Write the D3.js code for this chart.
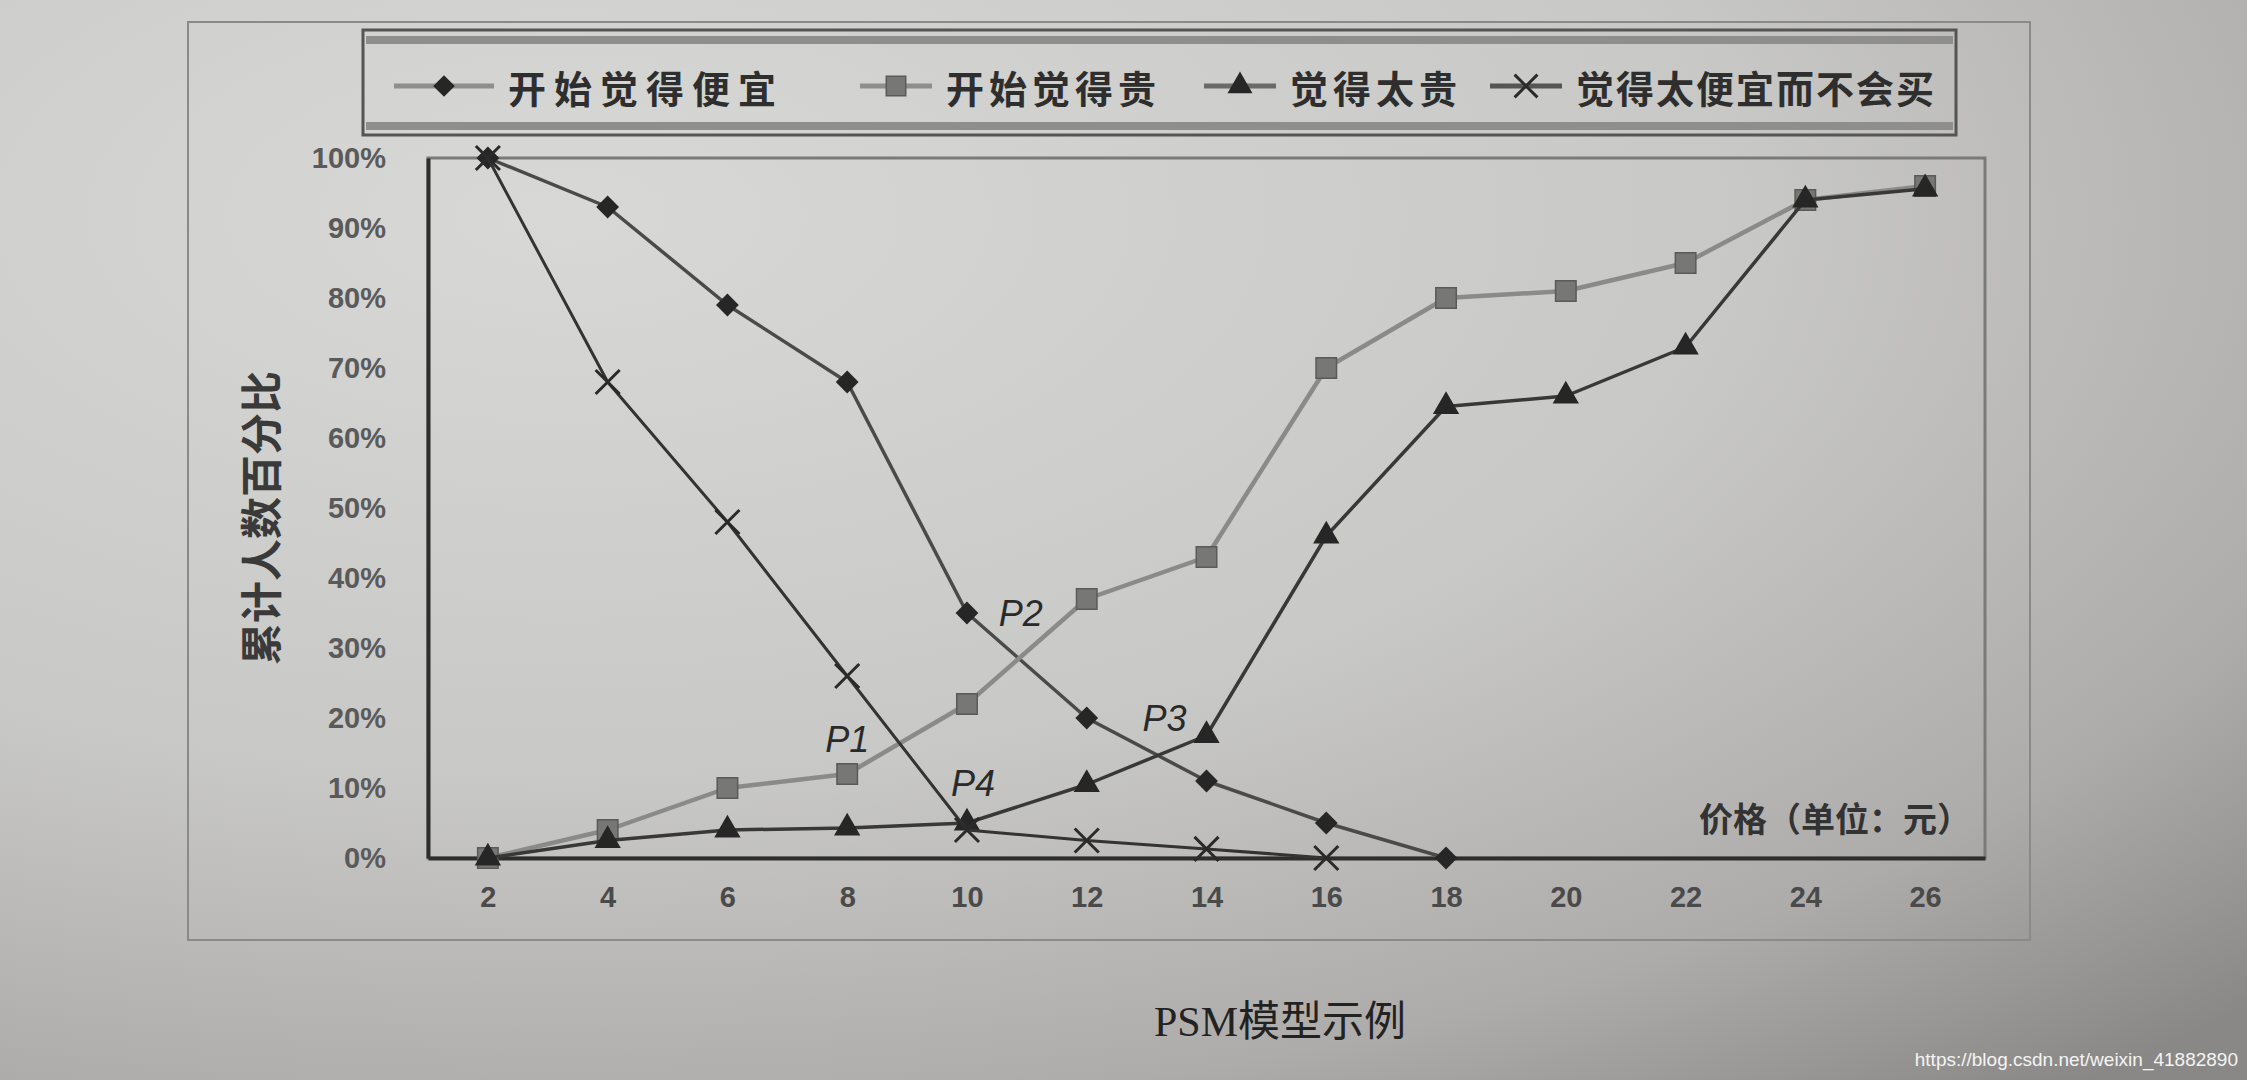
<!DOCTYPE html>
<html>
<head>
<meta charset="utf-8">
<script src="https://cdn.jsdelivr.net/npm/d3@7"></script>
<style>
  html, body { margin: 0; padding: 0; background: #c4c4c2; }
  svg { display: block; }
</style>
</head>
<body>
<div id="chart"></div>
<script>
// price categories (元)
var prices = [2, 4, 6, 8, 10, 12, 14, 16, 18, 20, 22, 24, 26];

// cumulative share of respondents, percent
var cheapStart     = [100, 93, 79, 68, 35, 20, 11, 5, 0];                      // 开始觉得便宜 (2..18)
var expensiveStart = [0, 4, 10, 12, 22, 37, 43, 70, 80, 81, 85, 94, 96];       // 开始觉得贵
var tooExpensive   = [0, 2.5, 4, 4.3, 5, 10.5, 17.5, 46, 64.5, 66, 73, 94, 95.6]; // 觉得太贵
var tooCheap       = [100, 68, 48, 26, 4, 2.5, 1.3, 0];                        // 觉得太便宜而不会买 (2..16)

var seriesNames = ['开始觉得便宜', '开始觉得贵', '觉得太贵', '觉得太便宜而不会买'];
var yTicks = [0, 10, 20, 30, 40, 50, 60, 70, 80, 90, 100];

// intersection labels, anchored in data units
var pLabels = ['P1', 'P2', 'P3', 'P4'];
var pPrice  = [8, 10.9, 13.3, 10.1];
var pValue  = [17, 35, 20, 10.6];

var W = 2247, H = 1080;
var plot = {left: 428, right: 1985, top: 158, bottom: 858};

var svg = d3.select('#chart').append('svg')
	.attr('width', W)
	.attr('height', H);

// paper-like background of the photo
var defs = svg.append('defs');
var grad = defs.append('radialGradient')
	.attr('id', 'paper')
	.attr('cx', '0.25').attr('cy', '0.2').attr('r', '1.05');
grad.append('stop').attr('offset', '0').attr('stop-color', '#d8d8d6');
grad.append('stop').attr('offset', '0.5').attr('stop-color', '#c8c8c6');
grad.append('stop').attr('offset', '0.8').attr('stop-color', '#aeacaa');
grad.append('stop').attr('offset', '1').attr('stop-color', '#8a8886');
svg.append('rect')
	.attr('width', W).attr('height', H)
	.attr('fill', 'url(#paper)');

// outer chart frame
svg.append('rect')
	.attr('x', 188).attr('y', 22)
	.attr('width', 2030 - 188).attr('height', 940 - 22)
	.attr('fill', 'none')
	.attr('stroke', '#8a8a88')
	.attr('stroke-width', 2);

var xScale = d3.scaleLinear()
	.domain([1, 27])
	.range([plot.left, plot.right]);

var yScale = d3.scaleLinear()
	.domain([0, 100])
	.range([plot.bottom, plot.top]);

// plot frame
svg.append('rect')
	.attr('x', plot.left).attr('y', plot.top)
	.attr('width', plot.right - plot.left)
	.attr('height', plot.bottom - plot.top)
	.attr('fill', 'none')
	.attr('stroke', '#7a7a78')
	.attr('stroke-width', 3);

var yAxis = d3.axisLeft(yScale)
	.tickValues(yTicks)
	.tickSize(0)
	.tickPadding(42)
	.tickFormat(function(d) { return d + '%'; });

var yGuide = svg.append('g')
	.attr('transform', 'translate(' + plot.left + ',0)')
	.call(yAxis);
yGuide.select('.domain')
	.attr('stroke', '#2e2e2e')
	.attr('stroke-width', 4);
yGuide.selectAll('text')
	.attr('fill', '#5a5a5a')
	.style('font-family', '"Liberation Sans", Arial, sans-serif')
	.style('font-weight', 'bold')
	.style('font-size', '29px');

var xAxis = d3.axisBottom(xScale)
	.tickValues(prices)
	.tickSize(0)
	.tickPadding(28)
	.tickFormat(d3.format('d'));

var xGuide = svg.append('g')
	.attr('transform', 'translate(0,' + plot.bottom + ')')
	.call(xAxis);
xGuide.select('.domain')
	.attr('stroke', '#2e2e2e')
	.attr('stroke-width', 4);
xGuide.selectAll('text')
	.attr('fill', '#4a4a4a')
	.style('font-family', '"Liberation Sans", Arial, sans-serif')
	.style('font-weight', 'bold')
	.style('font-size', '29px');

// series setup
var series = [
	{name: seriesNames[0], values: cheapStart, line: '#4a4a4a', width: 3.5,
	 symbol: d3.symbolSquare, rotate: 45, size: 260, fill: '#262626', stroke: 'none'},
	{name: seriesNames[1], values: expensiveStart, line: '#8a8a88', width: 4.5,
	 symbol: d3.symbolSquare, rotate: 0, size: 420, fill: '#777775', stroke: '#5a5a58'},
	{name: seriesNames[2], values: tooExpensive, line: '#383838', width: 3.5,
	 symbol: d3.symbolTriangle, rotate: 0, size: 300, fill: '#262626', stroke: 'none'},
	{name: seriesNames[3], values: tooCheap, line: '#333333', width: 3,
	 symbol: d3.symbolX, rotate: 0, size: 380, fill: 'none', stroke: '#2a2a2a'}
];

var line = d3.line()
	.x(function(d) { return xScale(d.price); })
	.y(function(d) { return yScale(d.value); });

series.forEach(function(s) {
	var pts = s.values.map(function(v, i) { return {price: prices[i], value: v}; });

	svg.append('path')
		.datum(pts)
		.attr('d', line)
		.attr('fill', 'none')
		.attr('stroke', s.line)
		.attr('stroke-width', s.width)
		.attr('stroke-linejoin', 'round');

	svg.append('g').selectAll('path')
		.data(pts)
		.enter().append('path')
		.attr('d', d3.symbol().type(s.symbol).size(s.size))
		.attr('transform', function(d) {
			return 'translate(' + xScale(d.price) + ',' + yScale(d.value) + ') rotate(' + s.rotate + ')';
		})
		.attr('fill', s.fill)
		.attr('stroke', s.stroke)
		.attr('stroke-width', s.symbol === d3.symbolX ? 3 : 1.5);
});

// P1..P4 labels
svg.append('g').selectAll('text')
	.data(pLabels)
	.enter().append('text')
	.attr('x', function(d, i) { return xScale(pPrice[i]); })
	.attr('y', function(d, i) { return yScale(pValue[i]); })
	.attr('text-anchor', 'middle')
	.attr('dominant-baseline', 'central')
	.attr('fill', '#2a2a2a')
	.style('font-family', '"Liberation Sans", Arial, sans-serif')
	.style('font-style', 'italic')
	.style('font-size', '36px')
	.text(function(d) { return d; });

// x axis unit label inside the plot
svg.append('text')
	.attr('x', plot.right - 14)
	.attr('y', plot.bottom - 26)
	.attr('text-anchor', 'end')
	.attr('fill', '#333')
	.style('font-family', '"Noto Sans CJK SC", sans-serif')
	.style('font-weight', 'bold')
	.style('font-size', '34px')
	.text('价格（单位：元）');

// y axis title
svg.append('text')
	.attr('transform', 'translate(258,' + ((plot.top + plot.bottom) / 2 + 10) + ') rotate(-90)')
	.attr('text-anchor', 'middle')
	.attr('dominant-baseline', 'central')
	.attr('fill', '#3a3a3a')
	.style('font-family', '"Noto Sans CJK SC", sans-serif')
	.style('font-weight', 'bold')
	.style('font-size', '42px')
	.text('累计人数百分比');

// legend
var legend = svg.append('g');
legend.append('rect')
	.attr('x', 363).attr('y', 30)
	.attr('width', 1956 - 363).attr('height', 135 - 30)
	.attr('fill', 'none')
	.attr('stroke', '#555553')
	.attr('stroke-width', 3);
legend.append('line')
	.attr('x1', 366).attr('x2', 1953)
	.attr('y1', 40).attr('y2', 40)
	.attr('stroke', '#8e8e8c').attr('stroke-width', 8);
legend.append('line')
	.attr('x1', 366).attr('x2', 1953)
	.attr('y1', 126).attr('y2', 126)
	.attr('stroke', '#8e8e8c').attr('stroke-width', 8);

var legendLineX = [394, 860, 1204, 1490];
var legendLineLen = [100, 72, 72, 72];
var legendSpacing = [8, 5, 5, 2];
var legendLineColor = ['#8e8e8c', '#8e8e8c', '#6a6a68', '#555553'];
var legendY = 86;

series.forEach(function(s, i) {
	var x0 = legendLineX[i], x1 = x0 + legendLineLen[i];
	legend.append('line')
		.attr('x1', x0).attr('x2', x1)
		.attr('y1', legendY).attr('y2', legendY)
		.attr('stroke', legendLineColor[i])
		.attr('stroke-width', 5);
	legend.append('path')
		.attr('d', d3.symbol().type(s.symbol).size(s.size * 0.9))
		.attr('transform', 'translate(' + ((x0 + x1) / 2) + ',' + legendY + ') rotate(' + s.rotate + ')')
		.attr('fill', s.fill)
		.attr('stroke', s.stroke)
		.attr('stroke-width', s.symbol === d3.symbolX ? 3 : 1.5);
	legend.append('text')
		.attr('x', x1 + 14)
		.attr('y', legendY)
		.attr('dominant-baseline', 'central')
		.attr('fill', '#2e2e2e')
		.style('font-family', '"Noto Sans CJK SC", sans-serif')
		.style('font-weight', 'bold')
		.style('font-size', '38px')
		.style('letter-spacing', legendSpacing[i] + 'px')
		.text(s.name);
});

// caption below the chart
svg.append('text')
	.attr('x', 1280)
	.attr('y', 1022)
	.attr('text-anchor', 'middle')
	.attr('dominant-baseline', 'central')
	.attr('fill', '#222')
	.style('font-family', '"Liberation Serif", "Noto Sans CJK SC", serif')
	.style('font-size', '42px')
	.text('PSM模型示例');

// watermark
svg.append('text')
	.attr('x', 2238)
	.attr('y', 1066)
	.attr('text-anchor', 'end')
	.attr('fill', '#f4f4f4')
	.style('font-family', '"Liberation Sans", Arial, sans-serif')
	.style('font-size', '19px')
	.text('https://blog.csdn.net/weixin_41882890');
</script>
</body>
</html>
